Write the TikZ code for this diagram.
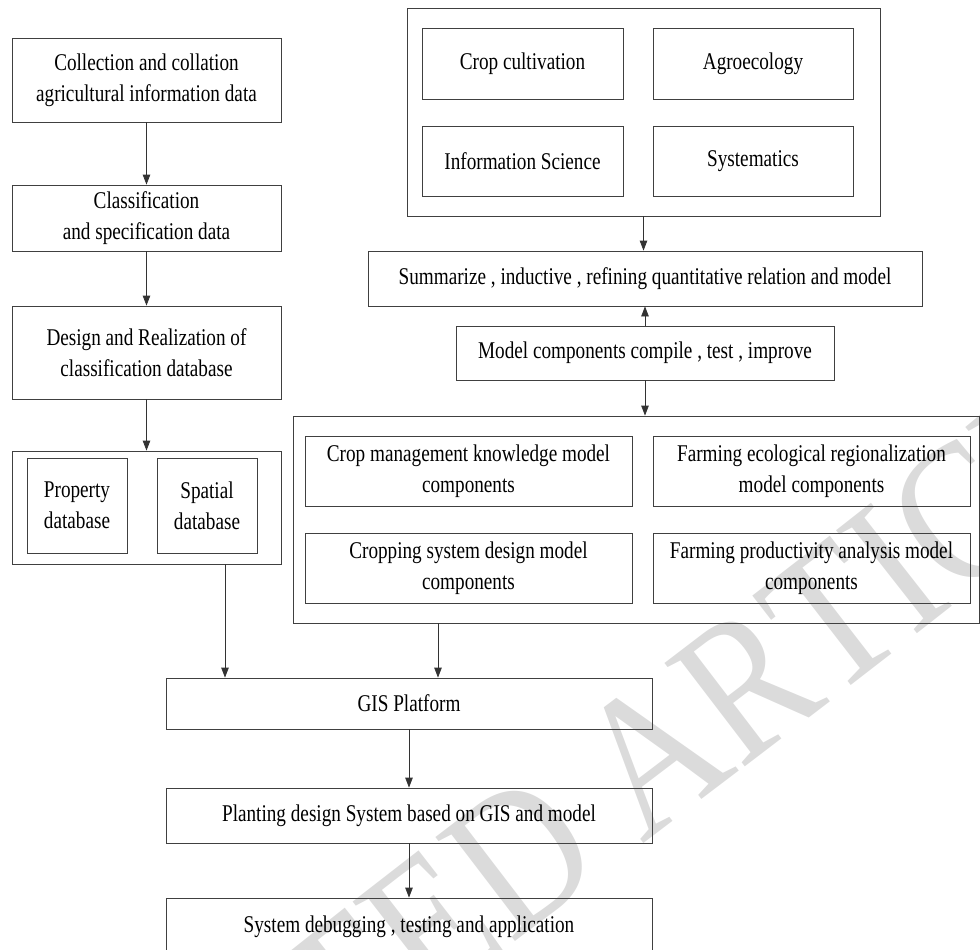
\documentclass[tikz,border=0pt]{standalone}
\usepackage{fontspec}
\setmainfont{Liberation Serif}[FakeStretch=0.8]
\newfontfamily\wmfont{Liberation Serif}[FakeStretch=0.85]
\usetikzlibrary{arrows.meta,decorations.text}
\tikzset{box/.style={draw=black!75, line width=0.8pt, align=center,
         inner sep=0pt, font=\fontsize{24}{31}\selectfont},
         arr/.style={draw=black!80, line width=0.8pt,
         -{Triangle[length=10pt,width=7.5pt]}}}

\begin{document}
\begin{tikzpicture}[x=1pt,y=-1pt]
  \useasboundingbox (0,0) rectangle (980,950);

  % watermark
  \path[decorate, decoration={text along path, text align={left indent=100pt},
        text={|\wmfont\fontsize{200}{200}\selectfont\color{black!14}|ACCEPTED ARTICLE}}]
    (-120,1520) .. controls (240,1066) and (977,664) .. (1420,190);

  % left column
  \node[box, minimum width=269pt, minimum height=84pt] (collect) at (146.5,80)
    {Collection and collation\\agricultural information data};
  \node[box, minimum width=269pt, minimum height=66pt] (classify) at (146.5,218)
    {Classification\\and specification data};
  \node[box, minimum width=269pt, minimum height=93pt] (design) at (146.5,352.5)
    {Design and Realization of\\classification database};
  \node[box, minimum width=269pt, minimum height=113pt] (dbase) at (146.5,507.5) {};
  \node[box, minimum width=100pt, minimum height=95pt] (prop) at (77,505.5)
    {Property\\database};
  \node[box, minimum width=100pt, minimum height=95pt] (spat) at (207,505.5)
    {Spatial\\database};

  % disciplines
  \node[box, minimum width=473pt, minimum height=208pt] (discip) at (643.5,112) {};
  \node[box, minimum width=201pt, minimum height=71pt] (crop) at (522.5,63.5) {Crop cultivation};
  \node[box, minimum width=200pt, minimum height=71pt] (agro) at (753,63.5) {Agroecology};
  \node[box, minimum width=201pt, minimum height=70pt] (info) at (522.5,161) {Information Science};
  \node[box, minimum width=200pt, minimum height=70pt] (syst) at (753,161) {Systematics};

  \node[box, minimum width=554pt, minimum height=55pt] (summ) at (645,278.5)
    {Summarize , inductive , refining quantitative relation and model};
  \node[box, minimum width=378pt, minimum height=54pt] (modc) at (645,353)
    {Model components compile , test , improve};

  % model components
  \node[box, minimum width=686pt, minimum height=207pt] (comps) at (636,519.5) {};
  \node[box, minimum width=327pt, minimum height=70pt] (cmk) at (468.5,471)
    {Crop management knowledge model\\components};
  \node[box, minimum width=317pt, minimum height=70pt] (fer) at (811.5,471)
    {Farming ecological regionalization\\model components};
  \node[box, minimum width=327pt, minimum height=70pt] (csd) at (468.5,568)
    {Cropping system design model\\components};
  \node[box, minimum width=317pt, minimum height=70pt] (fpa) at (811.5,568)
    {Farming productivity analysis model\\components};

  % bottom chain
  \node[box, minimum width=486pt, minimum height=51pt] (gis) at (409,703.5) {GIS Platform};
  \node[box, minimum width=486pt, minimum height=55pt] (plant) at (409,815.5)
    {Planting design System based on GIS and model};
  \node[box, minimum width=486pt, minimum height=57pt] (debug) at (409,926.5)
    {System debugging , testing and application};

  \coordinate (dbout) at (225,564);
  \coordinate (cpout) at (438,623);

  \draw[arr] (collect) -- (classify);
  \draw[arr] (classify) -- (design);
  \draw[arr] (design) -- (dbase);
  \draw[arr] (discip.south) -- (discip.south |- summ.north);
  \draw[arr] (modc.north) -- (modc.north |- summ.south);
  \draw[arr] (modc.south) -- (modc.south |- comps.north);
  \draw[arr] (dbout) -- (dbout |- gis.north);
  \draw[arr] (cpout) -- (cpout |- gis.north);
  \draw[arr] (gis) -- (plant);
  \draw[arr] (plant) -- (debug);
\end{tikzpicture}
\end{document}
